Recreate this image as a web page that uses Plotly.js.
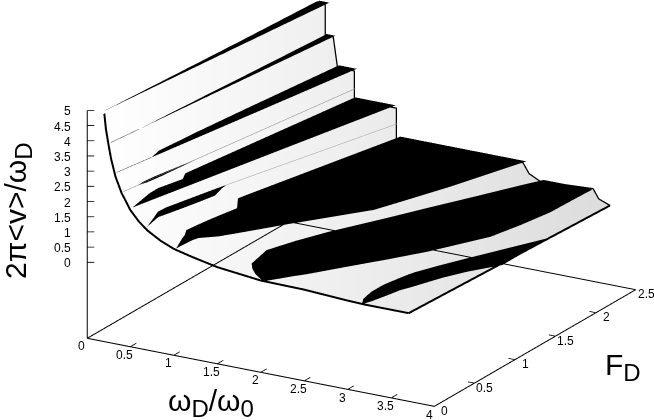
<!DOCTYPE html>
<html>
<head>
<meta charset="utf-8">
<script src="https://cdn.plot.ly/plotly-3.0.1.min.js"></script>
<style>html,body{margin:0;padding:0;background:#fff}#plot{width:654px;height:420px}</style>
</head>
<body>
<div id="plot"></div>
<script>
// axis ticks
var omegaTicks = [0, 0.5, 1, 1.5, 2, 2.5, 3, 3.5, 4];
var forceTicks = [0, 0.5, 1, 1.5, 2, 2.5];
var speedTicks = [0, 0.5, 1, 1.5, 2, 2.5, 3, 3.5, 4, 4.5, 5];
var floorZ = -2.53;
var frameZ = -2.5; // frame lines sit a hair above the floor, at the bound they get clipped

// edge of the surface at F=0 and at F=2.5
var frontOmega = [0.2, 0.22, 0.25, 0.28, 0.33, 0.4, 0.5, 0.6, 0.7, 0.85, 1, 1.2, 1.5, 2, 2.5, 3, 3.2, 3.45, 3.7];
var frontZ = [5.04, 4.5, 4, 3.55, 3, 2.5, 2, 1.67, 1.43, 1.18, 1, 0.86, 0.68, 0.52, 0.5, 0.42, 0.4, 0.4, 0.4];
var backOmega = [0.334, 0.427, 0.427, 0.519, 0.565, 0.761, 0.761, 1.165, 1.245, 1.245, 1.7, 2.2, 2.7, 2.77, 2.893, 3.2, 3.505, 3.57, 3.7];
var backZ = [4.92, 4.87, 3.88, 3.86, 2.93, 2.88, 1.92, 1.93, 1.93, 0.94, 0.94, 0.95, 0.95, 0.63, 0.455, 0.5, 0.55, 0.25, 0.105];

// locked steps, black regions: F rows, low and high omega boundary, height
var stepAF = [0.06, 2.5];
var stepALo = [0.135, 0.35];
var stepAHi = [0.135, 0.465];
var stepAZ = 4.95;

var stepBF = [0.1, 0.4, 1.2, 1.8, 2.5];
var stepBLo = [0.19, 0.233, 0.31, 0.37, 0.436];
var stepBHi = [0.19, 0.233, 0.348, 0.434, 0.535];
var stepBZ = 3.9;

var stepCF = [0.1, 0.45, 0.58, 1, 1.5, 2, 2.5];
var stepCLo = [0.255, 0.33, 0.295, 0.345, 0.418, 0.497, 0.576];
var stepCHi = [0.255, 0.331, 0.36, 0.452, 0.562, 0.672, 0.78];
var stepCZ = 2.95;

var stepDF = [0.225, 0.3, 0.42, 0.6, 0.7, 0.82];
var stepDLo = [0.378, 0.373, 0.391, 0.437, 0.462, 0.494];
var stepDHi = [0.378, 0.413, 0.441, 0.467, 0.482, 0.494];
var stepDZ = 2.4;

var stepEF = [0.05, 0.33, 0.44, 0.66, 0.76, 0.82, 1.5, 2, 2.5];
var stepELo = [0.482, 0.418, 0.415, 0.492, 0.43, 0.441, 0.57, 0.666, 0.761];
var stepEHi = [0.482, 0.566, 0.6, 0.667, 0.697, 0.715, 0.922, 1.075, 1.228];
var stepEZ = 2;

var stepFF = [0.03, 0.22, 0.305, 0.4, 0.6, 0.74, 0.88, 0.946];
var stepFLo = [0.669, 0.58, 0.538, 0.545, 0.611, 0.657, 0.704, 0.73];
var stepFHi = [0.669, 0.621, 0.651, 0.685, 0.749, 0.788, 0.74, 0.73];
var stepFZ = 1.5;

var stepGF = [0.02, 0.1, 0.2, 0.254, 0.344, 0.5, 0.6, 0.757, 0.85, 1.01, 1.09, 1.25, 1.5, 1.86, 2.5];
var stepGLo = [1.015, 0.97, 0.915, 0.893, 0.829, 0.855, 0.875, 0.915, 0.94, 0.802, 0.825, 0.877, 0.958, 1.074, 1.282];
var stepGHi = [1.015, 1.02, 1.03, 1.05, 1.2, 1.36, 1.46, 1.615, 1.715, 1.885, 1.97, 2.14, 2.27, 2.453, 2.73];
var stepGZ = 1;

var stepHF = [0.011, 0.1, 0.18, 0.257, 0.517, 0.75, 1, 1.43, 1.71, 2, 2.34, 2.5];
var stepHLo = [2.022, 1.85, 1.74, 1.66, 1.59, 1.7, 1.85, 2.165, 2.36, 2.57, 2.81, 2.93];
var stepHHi = [2.022, 2.12, 2.2, 2.29, 2.54, 2.77, 3, 3.316, 3.4, 3.465, 3.48, 3.49];
var stepHZ = 0.5;

var stepIF = [0, 0.1, 0.25, 0.38, 0.46, 0.66, 0.73, 0.92, 1.16, 1.45, 1.725];
var stepILo = [3.167, 3.09, 3.04, 3.03, 3.03, 3.07, 3.09, 3.18, 3.3, 3.5, 3.69];
var stepIHi = [3.167, 3.2, 3.23, 3.255, 3.29, 3.38, 3.41, 3.52, 3.7, 3.7, 3.69];
var stepIZ = [0.4, 0.38, 0.35, 0.33, 0.31, 0.29, 0.28, 0.25, 0.2, 0.2, 0.2];

// thin lines where a step has no width: [omega], [F], height, shade
var thinLines = [
  {w: [0.19, 0.233], f: [0.1, 0.4], z: 3.9, c: '#666'},
  {w: [0.255, 0.33], f: [0.1, 0.45], z: 2.95, c: '#666'},
  {w: [0.35, 0.813], f: [0.082, 2.444], z: 2.4, c: '#999'},
  {w: [0.73, 1.289], f: [0.946, 2.452], z: 1.5, c: '#aaa'}
];

function stepSurface(f, lo, hi, z) {
  var zs = f.map(function (v, i) { var h = Array.isArray(z) ? z[i] : z; return [h, h]; });
  return {
    type: 'surface', scene: 'scene2', hoverinfo: 'skip', showscale: false,
    x: f.map(function (v, i) { return [lo[i], hi[i]]; }),
    y: f.map(function (v) { return [v, v]; }),
    z: zs,
    colorscale: [[0, '#000'], [1, '#000']],
    lighting: {ambient: 1, diffuse: 0, specular: 0, fresnel: 0}
  };
}

function edge(x, y, z, width, color) {
  return {
    type: 'scatter3d', scene: 'scene2', mode: 'lines', hoverinfo: 'skip', showlegend: false,
    x: x, y: y, z: z, line: {color: color || '#000', width: width}
  };
}

function filled(a, v) { return a.map(function () { return v; }); }

// short tick strokes, broken up with nulls
function tickStrokes(ticks, from, to) {
  var xs = [], ys = [], zs = [];
  ticks.forEach(function (v) {
    var a = from(v), b = to(v);
    xs.push(a[0], b[0], null); ys.push(a[1], b[1], null); zs.push(a[2], b[2], null);
  });
  return edge(xs, ys, zs, 1.6);
}

// white to grey sheet, in its own scene under the lines
var sheet = {
  type: 'surface', scene: 'scene', hoverinfo: 'skip', showscale: false,
  x: [frontOmega, backOmega],
  y: [filled(frontOmega, 0), filled(backOmega, 2.5)],
  z: [frontZ, backZ],
  surfacecolor: [
    frontOmega.map(function (w) { return w; }),
    backOmega.map(function (w) { return w + 2.33; })
  ],
  cmin: 0.2, cmax: 6,
  colorscale: [[0, '#ffffff'], [1, '#dcdcdc']],
  lighting: {ambient: 1, diffuse: 0, specular: 0, fresnel: 0}
};

var data = [
  sheet,
  edge([0.005, 0.005, 3.995], [0.005, 2.49, 2.49], [frameZ, frameZ, frameZ], 2),
  edge([0.005, 3.995, 3.995], [0.005, 0.005, 2.49], [frameZ, frameZ, frameZ], 2),
  edge([0.005, 0.005], [0.005, 0.005], [frameZ, 4.99], 2),
  tickStrokes(omegaTicks.slice(1, -1), function (v) { return [v, 0.01, frameZ]; }, function (v) { return [v, 0.08, frameZ]; }),
  tickStrokes(forceTicks.slice(1, -1), function (v) { return [3.99, v, frameZ]; }, function (v) { return [3.92, v, frameZ]; }),
  tickStrokes(speedTicks.slice(0, -1).concat([4.99]), function (v) { return [0.005, 0.005, v]; }, function (v) { return [0.065, 0.027, v]; }),
  stepSurface(stepAF, stepALo, stepAHi, stepAZ),
  stepSurface(stepBF, stepBLo, stepBHi, stepBZ),
  stepSurface(stepCF, stepCLo, stepCHi, stepCZ),
  stepSurface(stepDF, stepDLo, stepDHi, stepDZ),
  stepSurface(stepEF, stepELo, stepEHi, stepEZ),
  stepSurface(stepFF, stepFLo, stepFHi, stepFZ),
  stepSurface(stepGF, stepGLo, stepGHi, stepGZ),
  stepSurface(stepHF, stepHLo, stepHHi, stepHZ),
  stepSurface(stepIF, stepILo, stepIHi, stepIZ),
  edge(frontOmega, filled(frontOmega, 0.005), frontZ, 4),
  edge(backOmega, filled(backOmega, 2.49), backZ, 2.5),
  edge([3.7, 3.7], [0.005, 2.49], [0.4, 0.105], 4),
  edge([0.2, 0.334], [0.005, 2.49], [5.04, 4.92], 2)
];
thinLines.forEach(function (l) {
  data.push(edge(l.w, l.f, filled(l.w, l.z), 1.2, l.c));
});

var eyeDir = [0.4734, -0.8137, 0.337];
var eyeDist = 8;
var lookAt = [-0.1348, -0.0964, -0.0432];
var camera = {
  up: {x: 0, y: 0, z: 1},
  center: {x: lookAt[0], y: lookAt[1], z: lookAt[2]},
  eye: {x: lookAt[0] + eyeDir[0] * eyeDist, y: lookAt[1] + eyeDir[1] * eyeDist, z: lookAt[2] + eyeDir[2] * eyeDist},
  projection: {type: 'orthographic'}
};

function hiddenAxis(range) {
  return {range: range, visible: false, showgrid: false, zeroline: false, showspikes: false, showbackground: false};
}
function shownAxis(range, ticks, line) {
  return {
    range: range, autorange: false, title: {text: ''}, tickmode: 'array', tickvals: ticks, showticklabels: false,
    showgrid: false, zeroline: false, showspikes: false, showbackground: false,
    showline: line, linecolor: '#000', linewidth: 1.5, ticks: ''
  };
}

// tick labels sit at a fixed pixel offset from the axis
var tickFont = {family: 'Liberation Sans', size: 12, color: '#000'};
function tickLabel(x, y, z, text, dx, dy, anchor) {
  return {x: x, y: y, z: z, text: text, showarrow: false, xshift: dx, yshift: dy, xanchor: anchor, yanchor: 'middle', font: tickFont};
}
var tickLabels = [];
omegaTicks.forEach(function (v) { tickLabels.push(tickLabel(v, 0, floorZ, String(v), -5, -7, 'center')); });
forceTicks.forEach(function (v) { tickLabels.push(tickLabel(4, v, floorZ, String(v), 10, -3.5, 'center')); });
speedTicks.forEach(function (v) { tickLabels.push(tickLabel(0, 0, v, String(v), -13, -1, 'right')); });

var aspect = {x: 1.917, y: 1.918, z: 1.1575};
var titleFont = {family: 'Liberation Sans', size: 30, color: '#000'};
function sub(t) { return '<sub><span style="font-size:24px">' + t + '</span></sub>'; }
function pageTitle(text, px, py, angle) {
  return {text: text, xref: 'paper', yref: 'paper', x: px / 654, y: 1 - py / 420, textangle: angle,
    xanchor: 'center', yanchor: 'middle', showarrow: false, font: titleFont};
}
var layout = {
  width: 654, height: 420,
  margin: {l: 0, r: 0, t: 0, b: 0},
  paper_bgcolor: '#fff',
  showlegend: false,
  scene: {
    domain: {x: [0, 1], y: [0, 1]}, camera: camera, aspectmode: 'manual', aspectratio: aspect,
    bgcolor: 'rgba(0,0,0,0)',
    xaxis: hiddenAxis([0, 4]), yaxis: hiddenAxis([0, 2.5]), zaxis: hiddenAxis([floorZ, 5])
  },
  scene2: {
    domain: {x: [0, 1], y: [0, 1]}, camera: camera, aspectmode: 'manual', aspectratio: aspect,
    bgcolor: 'rgba(0,0,0,0)',
    xaxis: shownAxis([0, 4], omegaTicks, false), yaxis: shownAxis([0, 2.5], forceTicks, false), zaxis: shownAxis([floorZ, 5], speedTicks, false),
    annotations: tickLabels
  },
  annotations: [
    pageTitle('2π&lt;v&gt;/ω' + sub('D'), 18, 211, -90),
    pageTitle('F' + sub('D'), 623, 367, 0),
    pageTitle('ω' + sub('D') + '/ω' + sub('0'), 211, 403, 0)
  ]
};

Plotly.newPlot('plot', data, layout, {displayModeBar: false});
</script>
</body>
</html>
